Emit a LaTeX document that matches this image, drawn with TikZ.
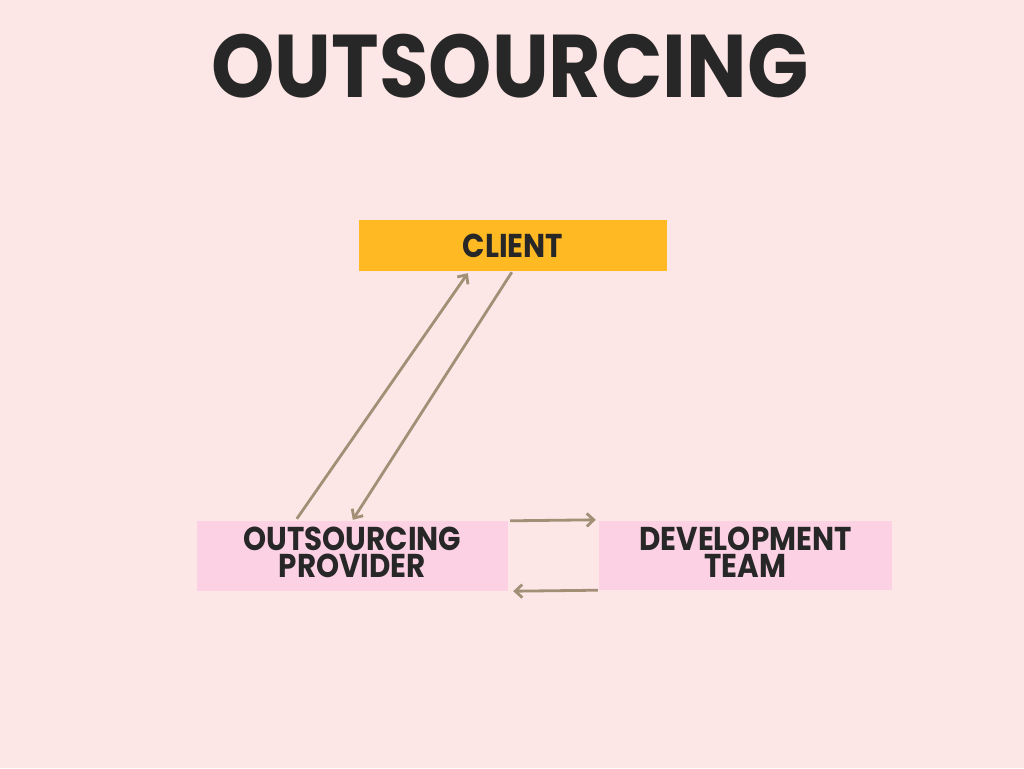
\documentclass[tikz,border=0pt]{standalone}
\usepackage{fontspec}
\setmainfont{Poppins}[BoldFont=* Bold]
\usetikzlibrary{arrows.meta}
\definecolor{bgpink}{HTML}{FDE6E6}
\definecolor{clientfill}{HTML}{FFB923}
\definecolor{boxpink}{HTML}{FCD1E3}
\definecolor{arrowbrown}{HTML}{A38E76}
\definecolor{textdark}{HTML}{272727}
\newcommand{\narrow}[1]{\scalebox{0.89}[1]{#1}}
\begin{document}
\begin{tikzpicture}[x=1pt,y=-1pt,
  box/.style={inner sep=0pt, align=center, text=textdark,
    font=\bfseries\fontsize{33}{27}\selectfont},
  link/.style={arrowbrown, line width=2.8pt, -{Straight Barb[length=7pt,width=13pt]}}]
% Background and title
\fill[bgpink] (0,0) rectangle (1024,768);
\useasboundingbox (0,0) rectangle (1024,768);
\node[text=textdark, font=\bfseries\fontsize{89}{89}\selectfont] (title) at (510,66) {\scalebox{0.905}[1]{OUTSOURCING}};

% Boxes
\node[box, fill=clientfill, minimum width=308pt, minimum height=51pt] (client) at (513,245.5) {\narrow{CLIENT}};
\node[box, fill=boxpink, minimum width=311pt, minimum height=70pt, text depth=7pt] (provider) at (352.5,556) {\narrow{OUTSOURCING}\\\narrow{PROVIDER}};
\node[box, fill=boxpink, minimum width=293pt, minimum height=69pt, text depth=7pt] (devteam) at (745.5,555.5) {\narrow{DEVELOPMENT}\\\narrow{TEAM}};

% Arrows between provider and client
\draw[link] ([xshift=100pt,yshift=2pt]provider.north west) -- ([xshift=109pt,yshift=-2pt]client.south west);
\draw[link] ([xshift=153pt,yshift=-1pt]client.south west) -- ([xshift=156pt,yshift=1pt]provider.north west);

% Arrows between provider and development team
\draw[link] ([xshift=2pt]provider.north east) -- ([xshift=-3pt,yshift=1pt]devteam.north west);
\draw[link] ([xshift=-1pt]devteam.south west) -- ([xshift=5pt]provider.south east);
\end{tikzpicture}
\end{document}
